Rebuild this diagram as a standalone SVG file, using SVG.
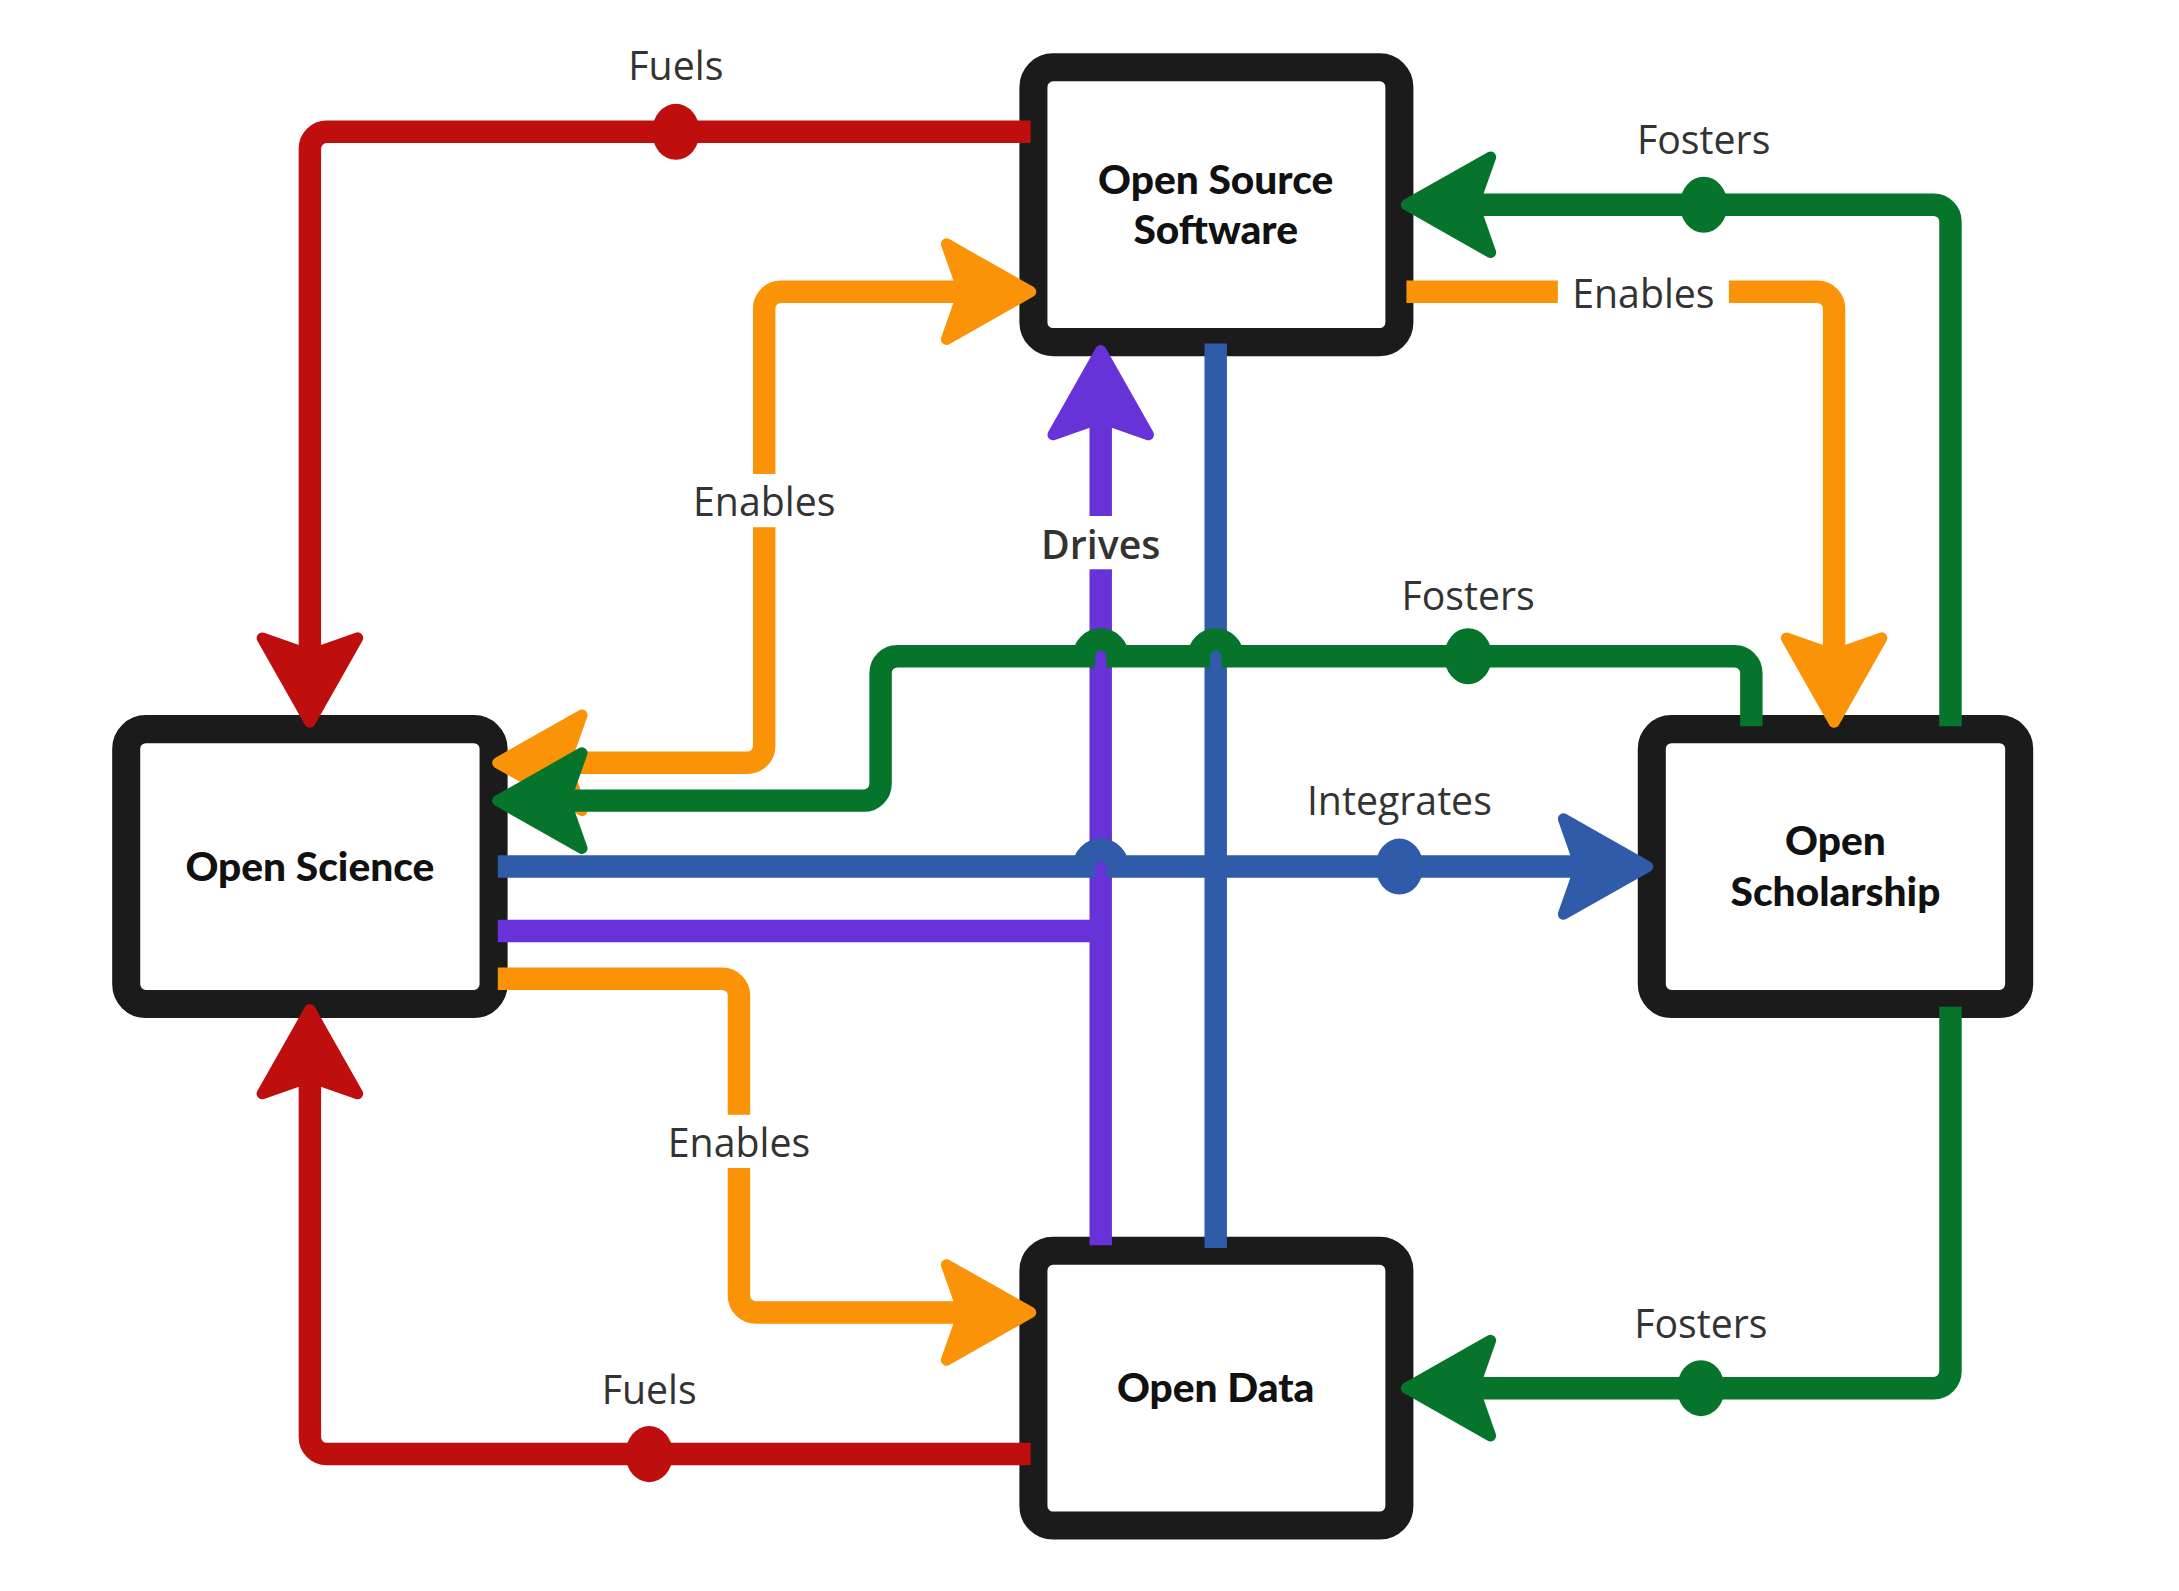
<svg xmlns="http://www.w3.org/2000/svg" width="2179" height="1591" viewBox="0 0 2179 1591">
<style>
.box{fill:#fff;stroke:#1b1b1b;stroke-width:20}
.nt{font-family:Lato,"Noto Sans",sans-serif;font-weight:900;font-size:29px;fill:#111;text-anchor:middle}
.c{fill:none;stroke-width:16}
.lb{font-family:"Open Sans","Noto Sans",sans-serif;font-size:28px;fill:#333;text-anchor:middle}
</style>
<defs>
<marker id="aR" markerUnits="userSpaceOnUse" orient="auto-start-reverse" overflow="visible" markerWidth="1" markerHeight="1"><path d="M40,0 L-20,-34 L-8,0 L-20,34 Z" fill="#be0e0e" stroke="#be0e0e" stroke-width="8" stroke-linejoin="round"/></marker>
<marker id="aO" markerUnits="userSpaceOnUse" orient="auto-start-reverse" overflow="visible" markerWidth="1" markerHeight="1"><path d="M40,0 L-20,-34 L-8,0 L-20,34 Z" fill="#fa9307" stroke="#fa9307" stroke-width="8" stroke-linejoin="round"/></marker>
<marker id="aG" markerUnits="userSpaceOnUse" orient="auto-start-reverse" overflow="visible" markerWidth="1" markerHeight="1"><path d="M40,0 L-20,-34 L-8,0 L-20,34 Z" fill="#07742b" stroke="#07742b" stroke-width="8" stroke-linejoin="round"/></marker>
<marker id="aB" markerUnits="userSpaceOnUse" orient="auto-start-reverse" overflow="visible" markerWidth="1" markerHeight="1"><path d="M40,0 L-20,-34 L-8,0 L-20,34 Z" fill="#2f5ba9" stroke="#2f5ba9" stroke-width="8" stroke-linejoin="round"/></marker>
<marker id="aP" markerUnits="userSpaceOnUse" orient="auto-start-reverse" overflow="visible" markerWidth="1" markerHeight="1"><path d="M40,0 L-20,-34 L-8,0 L-20,34 Z" fill="#6733d9" stroke="#6733d9" stroke-width="8" stroke-linejoin="round"/></marker>
</defs>
<g transform="scale(1.4022)">
<g id="oss"><rect class="box" x="737" y="48" width="261" height="196" rx="14"/><text class="nt" x="867" y="138">Open Source</text><text class="nt" x="867" y="174">Software</text></g>
<g id="osc"><rect class="box" x="90" y="520" width="262" height="196" rx="14"/><text class="nt" x="221" y="628">Open Science</text></g>
<g id="osh"><rect class="box" x="1178" y="520" width="262" height="196" rx="14"/><text class="nt" x="1309" y="610">Open</text><text class="nt" x="1309" y="646">Scholarship</text></g>
<g id="od"><rect class="box" x="737" y="892" width="261" height="196" rx="14"/><text class="nt" x="867" y="1000">Open Data</text></g>
<g id="connectors">
<path class="c" stroke="#be0e0e" d="M735,94 H233 A12,12 0 0 0 221,106 V475" marker-end="url(#aR)"/>
<ellipse cx="482" cy="94" rx="17" ry="20" fill="#be0e0e"/>
<path class="c" stroke="#be0e0e" d="M735,1037 H233 A12,12 0 0 1 221,1025 V760" marker-end="url(#aR)"/>
<ellipse cx="463" cy="1037" rx="17" ry="20" fill="#be0e0e"/>
<path class="c" stroke="#fa9307" d="M395,544 H533 A12,12 0 0 0 545,532 V220 A12,12 0 0 1 557,208 H695" marker-start="url(#aO)" marker-end="url(#aO)"/>
<path class="c" stroke="#fa9307" d="M1003,208 H1296 A12,12 0 0 1 1308,220 V475" marker-end="url(#aO)"/>
<path class="c" stroke="#fa9307" d="M355,698 H515 A12,12 0 0 1 527,710 V924 A12,12 0 0 0 539,936 H695" marker-end="url(#aO)"/>
<path class="c" stroke="#6733d9" stroke-width="20" d="M355,664 H785"/>
<path class="c" stroke="#6733d9" stroke-width="20" d="M785,888 V290" marker-end="url(#aP)"/>
<path class="c" stroke="#2f5ba9" d="M867,245 V890"/>
<path class="c" stroke="#2f5ba9" d="M355,618 H773 A12,12 0 0 1 797,618 H1135" marker-end="url(#aB)"/>
<ellipse cx="998" cy="618" rx="17" ry="20" fill="#2f5ba9"/>
<path class="c" stroke="#07742b" d="M1249,518 V480 A12,12 0 0 0 1237,468 H879 A12,12 0 0 0 855,468 H797 A12,12 0 0 0 773,468 H640 A12,12 0 0 0 628,480 V559 A12,12 0 0 1 616,571 H395" marker-end="url(#aG)"/>
<ellipse cx="1047" cy="468" rx="17" ry="20" fill="#07742b"/>
<path class="c" stroke="#07742b" d="M1391,518 V158 A12,12 0 0 0 1379,146 H1043" marker-end="url(#aG)"/>
<ellipse cx="1215" cy="146" rx="17" ry="20" fill="#07742b"/>
<path class="c" stroke="#07742b" d="M1391,718 V978 A12,12 0 0 1 1379,990 H1043" marker-end="url(#aG)"/>
<ellipse cx="1213" cy="990" rx="17" ry="20" fill="#07742b"/>
<text class="lb" x="482" y="57">Fuels</text>
<text class="lb" x="463" y="1001">Fuels</text>
<text class="lb" x="1215" y="110">Fosters</text>
<text class="lb" x="1213" y="954">Fosters</text>
<text class="lb" x="1047" y="435" font-size="22">Fosters</text>
<text class="lb" x="998" y="581">Integrates</text>
<rect x="485" y="338" width="120" height="38" fill="#fff"/><text class="lb" x="545" y="368">Enables</text>
<rect x="467" y="795" width="120" height="38" fill="#fff"/><text class="lb" x="527" y="825">Enables</text>
<rect x="1111" y="190" width="122" height="40" fill="#fff"/><text class="lb" x="1172" y="220">Enables</text>
<rect x="740" y="368" width="90" height="38" fill="#fff"/><text class="lb" x="785" y="399" fill="#6733d9" font-weight="600">Drives</text>
</g>
</g>
</svg>
